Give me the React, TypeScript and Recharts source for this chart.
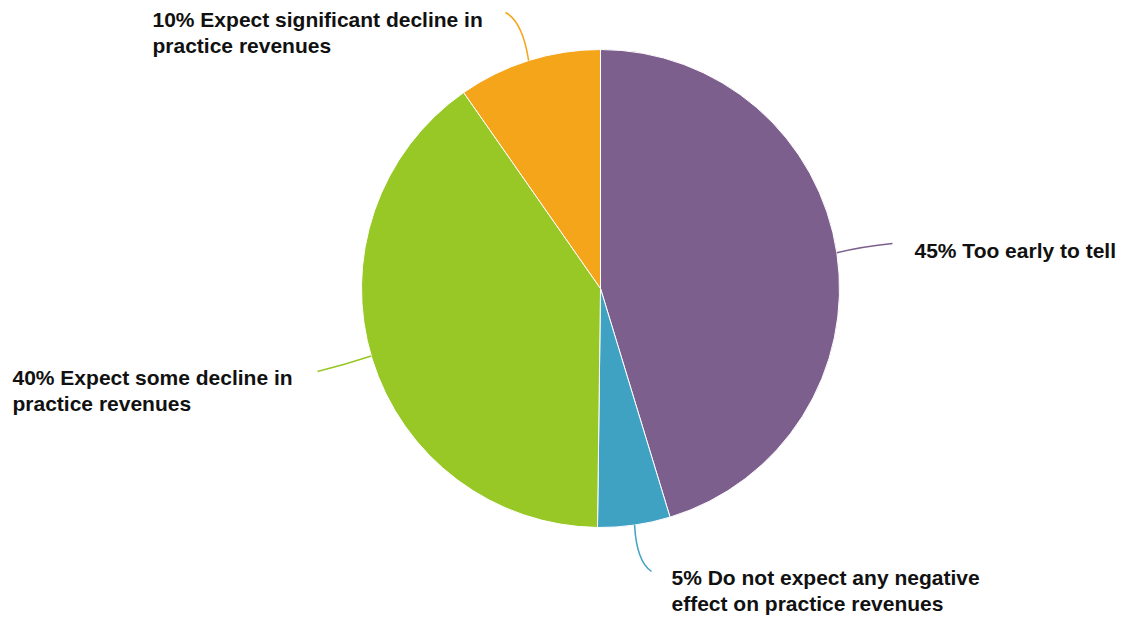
import { Cell, Pie, PieChart } from "recharts";

const categories = [
  "Too early to tell",
  "Do not expect any negative effect on practice revenues",
  "Expect some decline in practice revenues",
  "Expect significant decline in practice revenues",
];
const shares = [45.3, 4.9, 40.1, 9.7];
const colors = ["#7d5f8d", "#3fa2c2", "#97c825", "#f5a51a"];
const labelText = [
  ["45% Too early to tell"],
  ["5% Do not expect any negative", "effect on practice revenues"],
  ["40% Expect some decline in", "practice revenues"],
  ["10% Expect significant decline in", "practice revenues"],
];

// leader line + text placement, relative to pie centre
const labelLayout = [
  { angle: 8.6, ctrl: [262, -42], end: [292, -45], text: [314, -31] },
  { angle: -81.8, ctrl: [36, 273], end: [51, 283], text: [71, 296] },
  { angle: -163.6, ctrl: [-255, 76], end: [-283, 83], text: [-588, 96] },
  { angle: 107.5, ctrl: [-78, -267], end: [-95, -276], text: [-448, -262] },
];

const data = categories.map((name, i) => ({ name, value: shares[i] }));

const RAD = Math.PI / 180;

function renderLabel(props: any) {
  const { cx, cy, outerRadius, index } = props;
  const l = labelLayout[index];
  const sx = cx + outerRadius * Math.cos(l.angle * RAD);
  const sy = cy - outerRadius * Math.sin(l.angle * RAD);
  const d = `M${sx},${sy} Q${cx + l.ctrl[0]},${cy + l.ctrl[1]} ${cx + l.end[0]},${cy + l.end[1]}`;
  return (
    <g key={`lbl-${index}`}>
      <path d={d} stroke={colors[index]} strokeWidth={1.5} fill="none" />
      <text x={cx + l.text[0]} y={cy + l.text[1]} fill="#111" fontSize={21} fontWeight="bold" fontFamily="'Liberation Sans', Arial, sans-serif">
        {labelText[index].map((t, j) => (
          <tspan key={j} x={cx + l.text[0]} dy={j === 0 ? 0 : 26.5}>
            {t}
          </tspan>
        ))}
      </text>
    </g>
  );
}

export default function App() {
  return (
    <div style={{ position: "absolute", left: 0, top: 0, background: "#fff" }}>
      <PieChart width={1125} height={620} margin={{ top: 0, right: 0, bottom: 0, left: 0 }}>
        <Pie
          data={data}
          dataKey="value"
          nameKey="name"
          cx={600.5}
          cy={288.5}
          outerRadius={239}
          startAngle={90}
          endAngle={-270}
          stroke="#fff"
          strokeWidth={1}
          label={renderLabel}
          labelLine={false}
          isAnimationActive={false}
        >
          {data.map((d, i) => (
            <Cell key={d.name} fill={colors[i]} />
          ))}
        </Pie>
      </PieChart>
    </div>
  );
}
